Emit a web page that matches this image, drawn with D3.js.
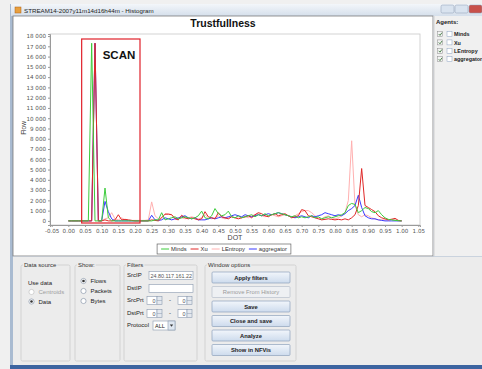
<!DOCTYPE html>
<html>
<head>
<meta charset="utf-8">
<script src="https://cdn.jsdelivr.net/npm/d3@7"></script>
<style>
  body { margin: 0; background: #f0f0f0; overflow: hidden; }
  svg { display: block; font-family: "Liberation Sans", Arial, sans-serif; }
</style>
</head>
<body>
<svg id="chart" width="482" height="369"></svg>
<script>
// histogram bins on DOT, 0.00 .. 1.00
const dot = d3.range(0, 101).map(i => i / 100);

const minds = [
  0, 0, 0, 0, 0, 0, 0, 17300, 0, 0,
  0, 3200, 300, 0, 0, 0, 0, 0, 0, 0,
  0, 0, 0, 0, 0, 0, 100, 100, 800, 100,
  200, 300, 400, 200, 300, 400, 300, 200, 300, 500,
  950, 300, 200, 500, 1200, 700, 500, 600, 950, 400,
  300, 500, 300, 400, 500, 600, 400, 600, 500, 700,
  500, 600, 700, 800, 700, 600, 500, 400, 500, 300,
  400, 300, 400, 500, 300, 400, 200, 300, 400, 300,
  400, 500, 600, 800, 1500, 1700, 1600, 800, 1000, 1300,
  1200, 900, 800, 1000, 600, 300, 150, 100, 50, 20,
  0
];
const xu = [
  0, 0, 0, 0, 0, 0, 0, 0, 17300, 0,
  0, 100, 0, 0, 100, 600, 100, 150, 100, 50,
  0, 0, 0, 0, 0, 100, 50, 0, 300, 650,
  650, 600, 200, 100, 550, 300, 200, 300, 200, 100,
  200, 900, 400, 300, 200, 800, 400, 300, 200, 400,
  300, 200, 300, 400, 500, 300, 600, 800, 700, 500,
  400, 600, 700, 500, 600, 700, 500, 300, 400, 500,
  1100, 1000, 500, 400, 300, 200, 100, 150, 200, 150,
  100, 150, 100, 200, 100, 300, 600, 1500, 5100, 1500,
  1300, 1100, 900, 500, 300, 200, 100, 150, 250, 50,
  0
];
const lentropy = [
  0, 0, 0, 0, 0, 0, 0, 0, 17300, 0,
  0, 200, 300, 800, 200, 100, 300, 100, 50, 50,
  50, 50, 50, 50, 100, 1850, 500, 200, 300, 700,
  700, 600, 300, 200, 300, 200, 300, 400, 300, 200,
  300, 600, 300, 200, 300, 500, 300, 200, 300, 400,
  300, 400, 300, 400, 300, 500, 600, 700, 500, 400,
  500, 600, 500, 400, 500, 600, 500, 400, 500, 700,
  900, 1000, 1000, 800, 500, 300, 200, 400, 500, 300,
  200, 300, 500, 800, 2000, 7800, 1500, 600, 400, 600,
  500, 300, 200, 100, 100, 100, 100, 200, 100, 0,
  0
];
const aggregator = [
  0, 0, 0, 0, 0, 0, 0, 0, 17300, 0,
  0, 1900, 900, 200, 0, 0, 0, 0, 0, 0,
  0, 0, 0, 0, 0, 550, 100, 50, 100, 300,
  200, 100, 200, 300, 400, 500, 300, 200, 300, 100,
  100, 100, 200, 300, 200, 300, 400, 300, 400, 500,
  600, 500, 400, 600, 500, 400, 500, 600, 500, 600,
  700, 600, 700, 800, 700, 600, 500, 400, 300, 400,
  500, 400, 300, 500, 400, 500, 600, 800, 700, 600,
  500, 600, 500, 700, 1000, 1200, 1500, 2500, 1300, 500,
  300, 200, 200, 100, 50, 0, 0, 0, 0, 0,
  0
];

const seriesNames = ["Minds", "Xu", "LEntropy", "aggregator"];
const seriesColors = ["#3dcc3d", "#e02828", "#ffb0b0", "#3a3aff"];
const seriesValues = [minds, xu, lentropy, aggregator];

const xTickValues = [-0.05, 0, 0.05, 0.1, 0.15, 0.2, 0.25, 0.3, 0.35, 0.4, 0.45, 0.5,
  0.55, 0.6, 0.65, 0.7, 0.75, 0.8, 0.85, 0.9, 0.95, 1, 1.05];
const yTickValues = [0, 1000, 2000, 3000, 4000, 5000, 6000, 7000, 8000, 9000, 10000,
  11000, 12000, 13000, 14000, 15000, 16000, 17000, 18000];
const scanRange = [0.04, 0.215];

const agents = ["Minds", "Xu", "LEntropy", "aggregator"];

const svg = d3.select("#chart");
const defs = svg.append("defs");

// ---- window frame ----
svg.append("rect").attr("x", 10).attr("y", 4).attr("width", 472).attr("height", 365)
  .attr("fill", "#a9bbd1");
const tb = defs.append("linearGradient").attr("id", "tbar")
  .attr("x1", 0).attr("x2", 0).attr("y1", 0).attr("y2", 1);
tb.append("stop").attr("offset", 0).attr("stop-color", "#f3f6fa");
tb.append("stop").attr("offset", 1).attr("stop-color", "#d5dfeb");
svg.append("rect").attr("x", 11).attr("y", 4).attr("width", 471).attr("height", 12)
  .attr("fill", "url(#tbar)");
svg.append("rect").attr("x", 15).attr("y", 7).attr("width", 6).attr("height", 6)
  .attr("fill", "#e8a040").attr("stroke", "#b06010").attr("stroke-width", 0.5);
svg.append("text").attr("x", 24).attr("y", 12.5).attr("font-size", 6.2).attr("fill", "#222")
  .text("STREAM14-2007y11m14d16h44m - Histogram");
[[441, "#d9e3ef"], [455, "#d9e3ef"], [469, "#c8504a"]].forEach(([bx, c]) => {
  svg.append("rect").attr("x", bx).attr("y", 5).attr("width", 13).attr("height", 8)
    .attr("rx", 1.5).attr("fill", c).attr("stroke", "#8a9bb0").attr("stroke-width", 0.5);
});

// chart panel / agents panel / bottom panel
svg.append("rect").attr("x", 13).attr("y", 16).attr("width", 420).attr("height", 240)
  .attr("fill", "#fff").attr("stroke", "#7a7a7a").attr("stroke-width", 0.8);
svg.append("rect").attr("x", 433.5).attr("y", 16).attr("width", 48.5).attr("height", 240)
  .attr("fill", "#f0f0f0");
svg.append("line").attr("x1", 434).attr("x2", 434).attr("y1", 16).attr("y2", 256)
  .attr("stroke", "#d0d0d0");
svg.append("rect").attr("x", 13).attr("y", 256.5).attr("width", 469).attr("height", 108.5)
  .attr("fill", "#ececec");
svg.append("rect").attr("x", 10).attr("y", 365).attr("width", 472).attr("height", 4)
  .attr("fill", "#3c64a0");

// ---- plot ----
const plot = { left: 50, right: 420, top: 34, bottom: 225 };
const x = d3.scaleLinear().domain([-0.055, 1.055]).range([plot.left, plot.right]);
const y = d3.scaleLinear().domain([-400, 18200]).range([plot.bottom, plot.top]);

svg.append("text").attr("x", 223).attr("y", 27).attr("text-anchor", "middle")
  .attr("font-size", 10.5).attr("font-weight", "bold").attr("fill", "#111")
  .text("Trustfullness");

svg.append("rect").attr("x", plot.left).attr("y", plot.top)
  .attr("width", plot.right - plot.left).attr("height", plot.bottom - plot.top)
  .attr("fill", "#fff").attr("stroke", "#c8c8c8").attr("stroke-width", 0.8);

const fmtX = v => (v < 0 ? "-" : "") + Math.abs(v).toFixed(2);
const fmtY = v => d3.format(",")(v).replace(/,/g, " ");

const xAxis = svg.append("g").attr("transform", `translate(0,${plot.bottom})`)
  .call(d3.axisBottom(x).tickValues(xTickValues).tickFormat(fmtX).tickSize(2).tickPadding(2));
const yAxis = svg.append("g").attr("transform", `translate(${plot.left},0)`)
  .call(d3.axisLeft(y).tickValues(yTickValues).tickFormat(fmtY).tickSize(2).tickPadding(2));
[xAxis, yAxis].forEach(a => {
  a.select(".domain").attr("stroke", "#9a9a9a");
  a.selectAll(".tick line").attr("stroke", "#9a9a9a");
  a.selectAll(".tick text").attr("font-size", 5.6).attr("fill", "#555")
    .attr("font-family", "'DejaVu Sans', sans-serif");
});

svg.append("text").attr("transform", "translate(26,128) rotate(-90)")
  .attr("text-anchor", "middle").attr("font-size", 6.5).attr("fill", "#444").text("Flow");
svg.append("text").attr("x", (plot.left + plot.right) / 2).attr("y", 239.5)
  .attr("text-anchor", "middle").attr("font-size", 7).attr("fill", "#444").text("DOT");

// series: light ones underneath
const line = d3.line().x((d, i) => x(dot[i])).y(d => y(d));
[2, 3, 1, 0].forEach(k => {
  svg.append("path").datum(seriesValues[k]).attr("d", line)
    .attr("fill", "none").attr("stroke", seriesColors[k]).attr("stroke-width", 1);
});

// SCAN annotation
svg.append("rect").attr("x", x(scanRange[0])).attr("y", 39)
  .attr("width", x(scanRange[1]) - x(scanRange[0])).attr("height", 223 - 39)
  .attr("fill", "none").attr("stroke", "#e0202a").attr("stroke-width", 1.2);
svg.append("text").attr("x", 119).attr("y", 59).attr("text-anchor", "middle")
  .attr("font-size", 11.5).attr("font-weight", "bold").attr("fill", "#111").text("SCAN");

// legend
const lg = svg.append("g");
const lgBox = lg.append("rect");
let lx = 4;
seriesNames.forEach((n, k) => {
  lg.append("line").attr("x1", lx).attr("x2", lx + 8).attr("y1", 5).attr("y2", 5)
    .attr("stroke", seriesColors[k]).attr("stroke-width", 1);
  const t = lg.append("text").attr("x", lx + 10).attr("y", 7.2).attr("font-size", 5.8)
    .attr("fill", "#333").text(n);
  lx += 10 + t.node().getComputedTextLength() + 4;
});
const lw = lx;
lgBox.attr("width", lw).attr("height", 10).attr("fill", "#fff")
  .attr("stroke", "#666").attr("stroke-width", 0.7);
lg.attr("transform", `translate(${224 - lw / 2},244)`);

// ---- agents panel ----
svg.append("text").attr("x", 436).attr("y", 23.5).attr("font-size", 6).attr("font-weight", "bold")
  .attr("fill", "#222").text("Agents:");
agents.forEach((a, i) => {
  const cy = 34 + i * 8.4;
  svg.append("rect").attr("x", 437.5).attr("y", cy - 2.5).attr("width", 5).attr("height", 5)
    .attr("fill", "#f4f4f4").attr("stroke", "#8a8a8a").attr("stroke-width", 0.5);
  svg.append("path").attr("d", `M438.7,${cy} l1.3,1.4 l2,-2.8`).attr("fill", "none")
    .attr("stroke", "#2a6a2a").attr("stroke-width", 0.8);
  svg.append("rect").attr("x", 447).attr("y", cy - 2.5).attr("width", 5).attr("height", 5)
    .attr("fill", "#fff").attr("stroke", "#8aa0c0").attr("stroke-width", 0.5);
  svg.append("text").attr("x", 454).attr("y", cy + 2.2).attr("font-size", 5.4).attr("font-weight", "bold")
    .attr("fill", "#222").text(a);
});

// ---- bottom controls ----
const bg = defs.append("linearGradient").attr("id", "btn")
  .attr("x1", 0).attr("x2", 0).attr("y1", 0).attr("y2", 1);
bg.append("stop").attr("offset", 0).attr("stop-color", "#f2f6fb");
bg.append("stop").attr("offset", 1).attr("stop-color", "#cddbed");

function group(gx, gy, w, h, title) {
  svg.append("rect").attr("x", gx).attr("y", gy).attr("width", w).attr("height", h)
    .attr("rx", 1.5).attr("fill", "none").attr("stroke", "#c8c8c8").attr("stroke-width", 0.7);
  const cover = svg.append("rect");
  const t = svg.append("text").attr("x", gx + 3).attr("y", gy + 2).attr("font-size", 6)
    .attr("fill", "#333").text(title);
  const tw = t.node().getComputedTextLength();
  cover.attr("x", gx + 2).attr("y", gy - 1).attr("width", tw + 2).attr("height", 3)
    .attr("fill", "#ececec");
}
function radio(cx, cy, label, selected, disabled) {
  svg.append("circle").attr("cx", cx).attr("cy", cy).attr("r", 2.6)
    .attr("fill", "#fff").attr("stroke", disabled ? "#bbb" : "#7a8aa0").attr("stroke-width", 0.6);
  if (selected) svg.append("circle").attr("cx", cx).attr("cy", cy).attr("r", 1.3).attr("fill", "#333");
  svg.append("text").attr("x", cx + 7).attr("y", cy + 2).attr("font-size", 6)
    .attr("fill", disabled ? "#a0a0a0" : "#222").text(label);
}
function label(lx, ly, s) {
  svg.append("text").attr("x", lx).attr("y", ly).attr("font-size", 6).attr("fill", "#222").text(s);
}
function field(fx, fy, w, s, anchor) {
  svg.append("rect").attr("x", fx).attr("y", fy).attr("width", w).attr("height", 8)
    .attr("fill", "#fff").attr("stroke", "#8a9ab0").attr("stroke-width", 0.6);
  if (s) svg.append("text").attr("x", anchor === "end" ? fx + w - 1.5 : fx + 1.5).attr("y", fy + 6)
    .attr("text-anchor", anchor || "start").attr("font-size", 5.4).attr("fill", "#555").text(s);
}
function spinner(fx, fy, w) {
  field(fx, fy, w, "0", "end");
  svg.append("rect").attr("x", fx + w).attr("y", fy).attr("width", 5).attr("height", 8)
    .attr("fill", "#e4e8ee").attr("stroke", "#8a9ab0").attr("stroke-width", 0.6);
  svg.append("line").attr("x1", fx + w).attr("x2", fx + w + 5).attr("y1", fy + 4).attr("y2", fy + 4)
    .attr("stroke", "#8a9ab0").attr("stroke-width", 0.5);
}
function button(by, s, disabled) {
  svg.append("rect").attr("x", 212).attr("y", by).attr("width", 78).attr("height", 11)
    .attr("rx", 1).attr("fill", disabled ? "#eef0f3" : "url(#btn)")
    .attr("stroke", disabled ? "#b8c0cc" : "#8ea2bc").attr("stroke-width", 0.7);
  svg.append("text").attr("x", 251).attr("y", by + 7.6).attr("text-anchor", "middle")
    .attr("font-size", 5.8).attr("font-weight", disabled ? "normal" : "bold")
    .attr("fill", disabled ? "#9a9a9a" : "#222").text(s);
}

group(21, 265, 49, 96, "Data source");
label(28, 284.5, "Use data");
radio(31.5, 292, "Centroids", false, true);
radio(31.5, 301.5, "Data", true, false);

group(75, 265, 45, 96, "Show:");
radio(83.5, 281, "Flows", true, false);
radio(83.5, 291, "Packets", false, false);
radio(83.5, 301, "Bytes", false, false);

group(124, 265, 73, 96, "Filters");
label(127, 277, "SrcIP");
field(149, 271.5, 44, "24.80.117.161.22");
label(127, 290, "DstIP");
field(149, 284.5, 44, "");
label(127, 302, "SrcPrt");
spinner(147, 296.5, 10);
label(169, 302, "-");
spinner(178, 296.5, 9);
label(127, 315, "DstPrt");
spinner(147, 309.5, 10);
label(169, 315, "-");
spinner(178, 309.5, 9);
label(127, 327, "Protocol");
svg.append("rect").attr("x", 153).attr("y", 321).attr("width", 22).attr("height", 9)
  .attr("fill", "#fff").attr("stroke", "#8a9ab0").attr("stroke-width", 0.6);
svg.append("text").attr("x", 155).attr("y", 327.5).attr("font-size", 5.6).attr("fill", "#222").text("ALL");
svg.append("rect").attr("x", 168).attr("y", 321).attr("width", 7).attr("height", 9)
  .attr("fill", "#dfe7f1").attr("stroke", "#8a9ab0").attr("stroke-width", 0.6);
svg.append("path").attr("d", "M169.8,324.5 h3.4 l-1.7,2.2 z").attr("fill", "#333");

group(205, 265, 91, 96, "Window options");
button(272, "Apply filters");
button(286.5, "Remove From History", true);
button(301, "Save");
button(315.5, "Close and save");
button(330, "Analyze");
button(344.5, "Show in NFVis");
</script>
</body>
</html>
